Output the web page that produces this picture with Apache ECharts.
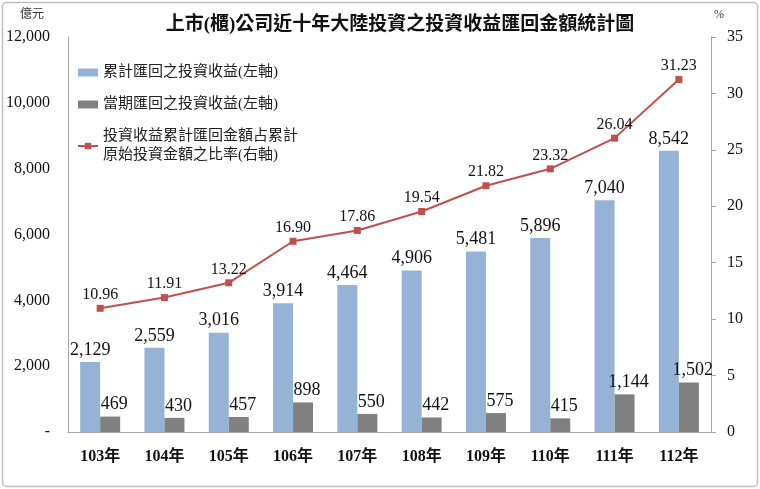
<!DOCTYPE html>
<html>
<head>
<meta charset="utf-8">
<script src="https://cdn.jsdelivr.net/npm/echarts@6/dist/echarts.min.js"></script>
<style>
html,body{margin:0;padding:0;background:#fff;}
#c{width:760px;height:489px;}
</style>
</head>
<body>
<div id="c"></div>
<script>
var categories = ['103年','104年','105年','106年','107年','108年','109年','110年','111年','112年'];
var cumulativeReturn = [2129, 2559, 3016, 3914, 4464, 4906, 5481, 5896, 7040, 8542];
var periodReturn = [469, 430, 457, 898, 550, 442, 575, 415, 1144, 1502];
var ratioPct = [10.96, 11.91, 13.22, 16.90, 17.86, 19.54, 21.82, 23.32, 26.04, 31.23];
var leftTicks = [0, 2000, 4000, 6000, 8000, 10000, 12000];
var rightTicks = [0, 5, 10, 15, 20, 25, 30, 35];

var serif = '"Liberation Serif", "Times New Roman", "Noto Sans CJK TC", serif';
var fmt = function(v){ return v === 0 ? '-' : v.toLocaleString('en-US'); };

var chart = echarts.init(document.getElementById('c'), null, {renderer:'canvas'});
chart.setOption({
  animation: false,
  backgroundColor: '#fff',
  title: {
    text: '上市(櫃)公司近十年大陸投資之投資收益匯回金額統計圖',
    left: 395, textAlign: 'center', top: 11,
    textStyle: {fontFamily: serif, fontSize: 19, fontWeight: 'bold', color: '#111'}
  },
  graphic: [
    {type:'rect', shape:{x:2.5, y:2.5, width:755, height:484, r:4}, style:{fill:'none', stroke:'#BFBFBF', lineWidth:1.5}, silent:true},
    {type:'text', left: 20, top: 9, style:{text:'億元', font:'12px ' + serif, fill:'#333'}},
    {type:'text', left: 714, top: 9, style:{text:'%', font:'12px ' + serif, fill:'#333'}}
  ],
  legend: {
    orient: 'vertical', left: 72, top: 58, itemGap: 13,
    itemWidth: 20, itemHeight: 8,
    textStyle: {fontFamily: serif, fontSize: 15, color: '#222', lineHeight: 19},
    data: [
      {name:'累計匯回之投資收益(左軸)', icon:'rect'},
      {name:'當期匯回之投資收益(左軸)', icon:'rect'},
      {name:'投資收益累計匯回金額占累計\n原始投資金額之比率(右軸)'}
    ]
  },
  grid: {left: 68, right: 49, top: 37, bottom: 57},
  xAxis: {
    type: 'category', data: categories,
    axisLine: {lineStyle: {color: '#A6A6A6'}},
    axisTick: {show: false},
    axisLabel: {fontFamily: serif, fontSize: 16, fontWeight: 'bold', color: '#111', margin: 17}
  },
  yAxis: [
    {
      type: 'value', min: leftTicks[0], max: leftTicks[leftTicks.length-1], interval: 2000,
      axisLine: {show: true, lineStyle: {color: '#A6A6A6'}},
      axisTick: {show: false},
      splitLine: {show: false},
      axisLabel: {fontFamily: serif, fontSize: 16, color: '#111', margin: 18, formatter: fmt}
    },
    {
      type: 'value', min: rightTicks[0], max: rightTicks[rightTicks.length-1], interval: 5,
      axisLine: {show: true, lineStyle: {color: '#A6A6A6'}},
      axisTick: {show: true, length: 5, lineStyle: {color: '#A6A6A6'}},
      splitLine: {show: false},
      axisLabel: {fontFamily: serif, fontSize: 16, color: '#111', margin: 16}
    }
  ],
  series: [
    {
      name: '累計匯回之投資收益(左軸)', type: 'bar', yAxisIndex: 0,
      data: cumulativeReturn, barWidth: 20, barGap: '0%',
      itemStyle: {color: '#95B3D7'},
      label: {show: true, position: 'top', distance: 3, fontFamily: serif, fontSize: 18, color: '#111', formatter: function(p){return fmt(p.value);}}
    },
    {
      name: '當期匯回之投資收益(左軸)', type: 'bar', yAxisIndex: 0,
      data: periodReturn, barWidth: 20, barGap: '0%',
      itemStyle: {color: '#808080'},
      label: {show: true, position: 'top', distance: 3, offset: [4, 0], fontFamily: serif, fontSize: 18, color: '#111', formatter: function(p){return fmt(p.value);}}
    },
    {
      name: '投資收益累計匯回金額占累計\n原始投資金額之比率(右軸)', type: 'line', yAxisIndex: 1,
      data: ratioPct, symbol: 'rect', symbolSize: 7,
      lineStyle: {color: '#C0504D', width: 2},
      itemStyle: {color: '#C0504D'},
      label: {show: true, position: 'top', distance: 2, fontFamily: serif, fontSize: 16, color: '#111',
        formatter: function(p){return p.value.toFixed(2);}}
    }
  ]
});
</script>
</body>
</html>
